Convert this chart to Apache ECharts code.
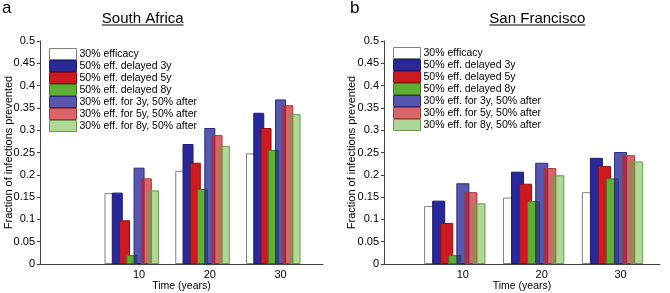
<!DOCTYPE html>
<html>
<head>
<meta charset="utf-8">
<script src="https://cdn.jsdelivr.net/npm/echarts@6/dist/echarts.min.js"></script>
<style>
  html, body { margin: 0; padding: 0; background: #fff; }
  #myCharts { width: 670px; height: 293px; }
</style>
</head>
<body>
<div id="myCharts"></div>
<script>
// categories (years) and legend names
const years = [10, 20, 30];
const seriesNames = [
  "30% efficacy",
  "50% eff. delayed 3y",
  "50% eff. delayed 5y",
  "50% eff. delayed 8y",
  "30% eff. for 3y, 50% after",
  "30% eff. for 5y, 50% after",
  "30% eff. for 8y, 50% after"
];

// South Africa
const saEff30 = [0.159, 0.209, 0.248];
const saDelay3 = [0.160, 0.269, 0.339];
const saDelay5 = [0.098, 0.227, 0.305];
const saDelay8 = [0.020, 0.168, 0.256];
const saRamp3 = [0.216, 0.305, 0.369];
const saRamp5 = [0.192, 0.289, 0.356];
const saRamp8 = [0.165, 0.265, 0.336];

// San Francisco
const sfEff30 = [0.130, 0.149, 0.161];
const sfDelay3 = [0.142, 0.207, 0.238];
const sfDelay5 = [0.092, 0.180, 0.220];
const sfDelay8 = [0.020, 0.141, 0.192];
const sfRamp3 = [0.181, 0.227, 0.251];
const sfRamp5 = [0.161, 0.215, 0.244];
const sfRamp8 = [0.136, 0.199, 0.230];

// y axis ticks 0 .. 0.5
const yMin = 0;
const yMax = 0.5;
const yStep = 0.05;

const FONT = "'Liberation Sans', Arial, sans-serif";

// fill / edge colours per series
const fills = [
  "#ffffff",
  "#28289a",
  "#cc1a20",
  "#5faf32",
  "rgba(40,40,154,0.78)",
  "rgba(204,26,32,0.68)",
  "rgba(95,175,50,0.5)"
];
const edges = ["#808080", "#1c1c6e", "#8a1014", "#3f7a22", "#2a2a80", "#9a3a3c", "#6c9a52"];

const myCharts = echarts.init(document.getElementById("myCharts"));

function textWidth(txt, font) {
  const ctx = document.createElement("canvas").getContext("2d");
  ctx.font = font;
  return ctx.measureText(txt).width;
}

function panelSeries(lists, idx, barW, gap) {
  const out = lists.map(function (vals, i) {
    return {
      name: seriesNames[i],
      type: "bar",
      xAxisIndex: idx,
      yAxisIndex: idx,
      barWidth: barW,
      barGap: gap,
      data: years.map(function (y, k) { return [y, vals[k]]; }),
      itemStyle: { color: fills[i], borderColor: edges[i], borderWidth: 1 }
    };
  });
  // two empty slots so the group sits like in the original (tick on 5th bar)
  for (let j = 0; j < 2; j++) {
    out.push({ name: "", type: "bar", xAxisIndex: idx, yAxisIndex: idx, barWidth: barW, barGap: gap, data: [], silent: true });
  }
  return out;
}

function xAxisOpt(idx, min, max) {
  return {
    type: "value",
    gridIndex: idx,
    min: min,
    max: max,
    name: "Time (years)",
    nameLocation: "middle",
    nameGap: 17,
    nameMoveOverlap: false,
    nameTextStyle: { fontFamily: FONT, fontSize: 10.5, color: "#000" },
    axisLine: { onZero: false, lineStyle: { color: "#444" } },
    axisTick: { show: false },
    splitLine: { show: false },
    axisLabel: { customValues: years, fontFamily: FONT, fontSize: 11, color: "#000", margin: 5 }
  };
}

function yAxisOpt(idx, gap) {
  return {
    type: "value",
    gridIndex: idx,
    min: yMin,
    max: yMax,
    interval: yStep,
    name: "Fraction of infections prevented",
    nameLocation: "middle",
    nameGap: gap,
    nameMoveOverlap: false,
    nameTextStyle: { fontFamily: FONT, fontSize: 11, color: "#000" },
    axisLine: { show: true, onZero: false, lineStyle: { color: "#444" } },
    axisTick: { show: true, length: 3, lineStyle: { color: "#444" } },
    splitLine: { show: false },
    axisLabel: { fontFamily: FONT, fontSize: 11, color: "#000", margin: 5 }
  };
}

function legendOpt(left, top) {
  return {
    data: seriesNames,
    orient: "vertical",
    left: left,
    top: top,
    icon: "rect",
    itemWidth: 27,
    itemHeight: 11,
    itemGap: 0,
    padding: 0,
    selectedMode: false,
    itemStyle: { borderWidth: 1 },
    textStyle: { fontFamily: FONT, fontSize: 10.5, color: "#000", padding: [0, 0, 0, -2] }
  };
}

const titleFont = "15px " + FONT;
function titleGraphics(txt, cx) {
  const w = textWidth(txt, titleFont);
  return [
    { type: "text", x: cx, y: 18.5, style: { text: txt, font: titleFont, fill: "#000", align: "center", verticalAlign: "middle" } },
    { type: "line", shape: { x1: cx - w / 2, y1: 25, x2: cx + w / 2, y2: 25 }, style: { stroke: "#000", lineWidth: 1 } }
  ];
}

let option = {
  animation: false,
  grid: [
    { left: 40, right: 347, top: 41, bottom: 29, containLabel: false, outerBoundsMode: "none" },
    { left: 384, right: 10, top: 41, bottom: 29, containLabel: false, outerBoundsMode: "none" }
  ],
  legend: [legendOpt(49, 48), legendOpt(393, 47)],
  xAxis: [xAxisOpt(0, -4, 36), xAxisOpt(1, 0, 35)],
  yAxis: [yAxisOpt(0, 26), yAxisOpt(1, 27)],
  series: panelSeries([saEff30, saDelay3, saDelay5, saDelay8, saRamp3, saRamp5, saRamp8], 0, 11, "-34%")
    .concat(panelSeries([sfEff30, sfDelay3, sfDelay5, sfDelay8, sfRamp3, sfRamp5, sfRamp8], 1, 13, "-38%")),
  graphic: [
    { type: "text", x: 2, y: 8.5, style: { text: "a", font: "17px " + FONT, fill: "#000", verticalAlign: "middle" } },
    { type: "text", x: 350, y: 8.5, style: { text: "b", font: "17px " + FONT, fill: "#000", verticalAlign: "middle" } }
  ].concat(titleGraphics("South Africa", 142.7), titleGraphics("San Francisco", 537.3))
};
myCharts.setOption(option);
</script>
</body>
</html>
